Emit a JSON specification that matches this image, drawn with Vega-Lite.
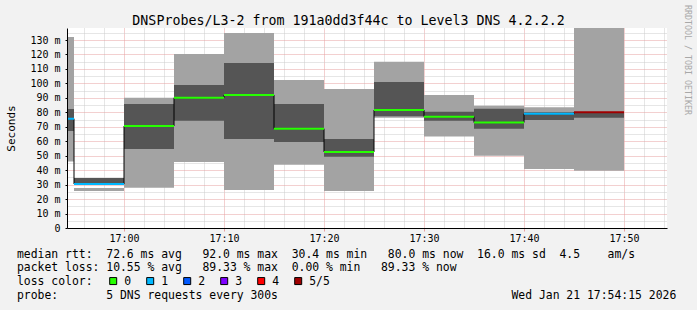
{
  "$schema": "https://vega.github.io/schema/vega-lite/v6.json",
  "background": "#f2f2f2",
  "padding": {"left": 5, "top": 5, "right": 6, "bottom": 8},
  "title": {"text": "RRDTOOL / TOBI OETIKER", "orient": "right", "anchor": "start", "offset": 7, "dx": -8.7, "font": "DejaVu Sans Mono", "fontSize": 8.3, "fontWeight": "normal", "color": "#a8a8a8"},
  "datasets": {
    "smoke": [
      {"start": "2026-01-21T16:50:00Z", "end": "2026-01-21T16:55:00Z", "lightLo": 45.9, "lightHi": 132.1, "darkLo": 67.1, "darkHi": 82.3, "median": 75.6, "loss": "1"},
      {"start": "2026-01-21T16:55:00Z", "end": "2026-01-21T17:00:00Z", "lightLo": 25.6, "lightHi": 27.7, "darkLo": 30.4, "darkHi": 34.6, "median": 30.4, "loss": "1"},
      {"start": "2026-01-21T17:00:00Z", "end": "2026-01-21T17:05:00Z", "lightLo": 27.9, "lightHi": 90.1, "darkLo": 54.6, "darkHi": 85.7, "median": 70.5, "loss": "0"},
      {"start": "2026-01-21T17:05:00Z", "end": "2026-01-21T17:10:00Z", "lightLo": 45.6, "lightHi": 120.3, "darkLo": 74.2, "darkHi": 98.9, "median": 90.1, "loss": "0"},
      {"start": "2026-01-21T17:10:00Z", "end": "2026-01-21T17:15:00Z", "lightLo": 26.3, "lightHi": 134.8, "darkLo": 61.5, "darkHi": 114.1, "median": 92.0, "loss": "0"},
      {"start": "2026-01-21T17:15:00Z", "end": "2026-01-21T17:20:00Z", "lightLo": 43.8, "lightHi": 102.3, "darkLo": 59.5, "darkHi": 85.7, "median": 68.7, "loss": "0"},
      {"start": "2026-01-21T17:20:00Z", "end": "2026-01-21T17:25:00Z", "lightLo": 25.6, "lightHi": 96.1, "darkLo": 49.3, "darkHi": 61.5, "median": 52.6, "loss": "0"},
      {"start": "2026-01-21T17:25:00Z", "end": "2026-01-21T17:30:00Z", "lightLo": 76.3, "lightHi": 115.0, "darkLo": 77.2, "darkHi": 101.0, "median": 81.6, "loss": "0"},
      {"start": "2026-01-21T17:30:00Z", "end": "2026-01-21T17:35:00Z", "lightLo": 63.2, "lightHi": 92.0, "darkLo": 74.2, "darkHi": 80.4, "median": 77.0, "loss": "0"},
      {"start": "2026-01-21T17:35:00Z", "end": "2026-01-21T17:40:00Z", "lightLo": 50.0, "lightHi": 84.6, "darkLo": 68.7, "darkHi": 82.5, "median": 72.9, "loss": "0"},
      {"start": "2026-01-21T17:40:00Z", "end": "2026-01-21T17:45:00Z", "lightLo": 40.8, "lightHi": 83.5, "darkLo": 74.7, "darkHi": 80.0, "median": 79.0, "loss": "1"},
      {"start": "2026-01-21T17:45:00Z", "end": "2026-01-21T17:50:00Z", "lightLo": 39.6, "lightHi": 138.3, "darkLo": 76.3, "darkHi": 80.0, "median": 80.0, "loss": "5/5"}
    ],
    "footer": [
      {"row": 1, "line": "median rtt:\u00a0\u00a072.6 ms avg\u00a0\u00a0\u00a092.0 ms max\u00a0\u00a030.4 ms min\u00a0\u00a0\u00a080.0 ms now\u00a0\u00a016.0 ms sd\u00a0\u00a04.5\u00a0\u00a0\u00a0\u00a0am/s"},
      {"row": 2, "line": "packet loss: 10.55 % avg\u00a0\u00a0\u00a089.33 % max\u00a0\u00a00.00 % min\u00a0\u00a0\u00a089.33 % now"},
      {"row": 3, "line": "loss color:"},
      {"row": 4, "line": "probe:\u00a0\u00a0\u00a0\u00a0\u00a0\u00a0\u00a05 DNS requests every 300s\u00a0\u00a0\u00a0\u00a0\u00a0\u00a0\u00a0\u00a0\u00a0\u00a0\u00a0\u00a0\u00a0\u00a0\u00a0\u00a0\u00a0\u00a0\u00a0\u00a0\u00a0\u00a0\u00a0\u00a0\u00a0\u00a0\u00a0\u00a0\u00a0\u00a0\u00a0\u00a0\u00a0\u00a0Wed Jan 21 17:54:15 2026"}
    ],
    "loss": [
      {"row": 3, "loss": "0"}, {"row": 3, "loss": "1"}, {"row": 3, "loss": "2"}, {"row": 3, "loss": "3"}, {"row": 3, "loss": "4"}, {"row": 3, "loss": "5/5"}
    ]
  },
  "bounds": "flush",
  "spacing": 18.9,
  "vconcat": [
    {
      "width": 600,
      "height": 200,
      "view": {"fill": "#ffffff", "stroke": null},
      "title": {"text": "DNSProbes/L3-2 from 191a0dd3f44c to Level3 DNS 4.2.2.2", "anchor": "middle", "frame": "group", "dx": -18.5, "offset": 1, "font": "DejaVu Sans Mono", "fontSize": 13.3, "fontWeight": "normal", "color": "#000000"},
      "data": {"name": "smoke"},
      "layer": [
        {
          "mark": {"type": "rect", "color": "#a3a3a3", "opacity": 1, "clip": true},
          "encoding": {
            "x": {"field": "start", "type": "temporal",
                  "scale": {"type": "utc", "domain": [1769014458000, 1769018058000]},
                  "axis": {"orient": "bottom", "values": [1769014560000, 1769014680000, 1769014920000, 1769015040000, 1769015160000, 1769015280000, 1769015520000, 1769015640000, 1769015760000, 1769015880000, 1769016120000, 1769016240000, 1769016360000, 1769016480000, 1769016720000, 1769016840000, 1769016960000, 1769017080000, 1769017320000, 1769017440000, 1769017560000, 1769017680000, 1769017920000, 1769018040000], "grid": true, "gridColor": "#cdcdcd", "gridDash": [1, 1], "labels": false, "ticks": false, "domain": false, "title": null, "zindex": 0}},
            "x2": {"field": "end"},
            "y": {"field": "lightLo", "type": "quantitative",
                  "scale": {"domain": [0, 138.3], "nice": false, "zero": false},
                  "axis": {"orient": "left", "values": [5, 15, 25, 35, 45, 55, 65, 75, 85, 95, 105, 115, 125, 135], "grid": true, "gridColor": "#cdcdcd", "gridDash": [1, 1], "labels": false, "ticks": false, "domain": false, "title": null, "zindex": 0}},
            "y2": {"field": "lightHi"}
          }
        },
        {
          "mark": {"type": "rect", "color": "#555555", "opacity": 1, "clip": true},
          "encoding": {
            "x": {"field": "start", "type": "temporal",
                  "axis": {"orient": "bottom", "values": [1769014800000, 1769015400000, 1769016000000, 1769016600000, 1769017200000, 1769017800000], "grid": true, "gridColor": "#e7a1a1", "gridDash": [1, 1], "labels": false, "ticks": false, "domain": false, "title": null, "zindex": 0}},
            "x2": {"field": "end"},
            "y": {"field": "darkLo", "type": "quantitative",
                  "axis": {"orient": "left", "values": [0, 10, 20, 30, 40, 50, 60, 70, 80, 90, 100, 110, 120, 130], "grid": true, "gridColor": "#e7a1a1", "gridDash": [1, 1], "labels": false, "ticks": false, "domain": false, "title": null, "zindex": 0}},
            "y2": {"field": "darkHi"}
          }
        },
        {
          "mark": {"type": "line", "interpolate": "step-after", "color": "#000000", "strokeWidth": 1, "clip": true},
          "encoding": {
            "x": {"field": "start", "type": "temporal",
                  "axis": {"orient": "bottom", "values": [1769014800000, 1769015400000, 1769016000000, 1769016600000, 1769017200000, 1769017800000], "grid": false, "format": "%H:%M", "labelFont": "DejaVu Sans Mono", "labelFontSize": 10, "labelColor": "#000000", "labelPadding": 2, "labelFlush": false, "labelOverlap": false, "tickSize": 3, "tickColor": "#e7a1a1", "domainColor": "#000000", "title": null, "zindex": 1}},
            "y": {"field": "median", "type": "quantitative",
                  "axis": {"orient": "left", "values": [0, 10, 20, 30, 40, 50, 60, 70, 80, 90, 100, 110, 120, 130], "grid": false, "labelExpr": "datum.value == 0 ? '0' : datum.value + ' m'", "labelFont": "DejaVu Sans Mono", "labelFontSize": 10, "labelColor": "#000000", "labelPadding": 5, "tickSize": 2, "tickColor": "#000000", "domainColor": "#000000", "title": "Seconds", "titleFont": "DejaVu Sans Mono", "titleFontSize": 11, "titleFontWeight": "normal", "titleColor": "#000000", "titlePadding": 13, "zindex": 1}}
          }
        },
        {
          "mark": {"type": "rule", "strokeWidth": 2, "clip": true},
          "encoding": {
            "x": {"field": "start", "type": "temporal", "axis": null},
            "x2": {"field": "end"},
            "y": {"field": "median", "type": "quantitative", "axis": null},
            "color": {"field": "loss", "type": "nominal", "scale": {"domain": ["0", "1", "2", "3", "4", "5/5"], "range": ["#26ff00", "#00b8ff", "#0059ff", "#7e00ff", "#ff0000", "#a00000"]}, "legend": null}
          }
        }
      ],
      "resolve": {"axis": {"x": "independent", "y": "independent"}}
    },
    {
      "width": 277.4,
      "height": 54.68,
      "layer": [
        {
          "data": {"name": "footer"},
          "mark": {"type": "text", "align": "left", "baseline": "alphabetic", "dx": -188.7, "dy": 4, "font": "DejaVu Sans Mono", "fontSize": 11.42, "color": "#000000"},
          "encoding": {
            "y": {"field": "row", "type": "ordinal", "scale": {"type": "band", "paddingInner": 0, "paddingOuter": 0}, "axis": null},
            "text": {"field": "line"}
          }
        },
        {
          "data": {"name": "loss"},
          "mark": {"type": "square", "size": 49, "filled": true, "stroke": "#000000", "strokeWidth": 1, "opacity": 1},
          "encoding": {
            "x": {"field": "loss", "type": "ordinal", "sort": null, "scale": {"type": "point", "padding": 0, "range": [46.2, 231.2]}, "axis": null},
            "y": {"field": "row", "type": "ordinal", "scale": {"type": "band", "paddingInner": 0, "paddingOuter": 0}, "axis": null},
            "color": {"field": "loss", "type": "nominal", "legend": null}
          }
        },
        {
          "data": {"name": "loss"},
          "mark": {"type": "text", "align": "left", "baseline": "alphabetic", "dx": 11, "dy": 4, "font": "DejaVu Sans Mono", "fontSize": 11.42, "color": "#000000"},
          "encoding": {
            "x": {"field": "loss", "type": "ordinal", "sort": null, "scale": {"type": "point", "padding": 0, "range": [46.2, 231.2]}, "axis": null},
            "y": {"field": "row", "type": "ordinal", "scale": {"type": "band", "paddingInner": 0, "paddingOuter": 0}, "axis": null},
            "text": {"field": "loss"}
          }
        }
      ]
    }
  ],
  "config": {"view": {"stroke": null}}
}
